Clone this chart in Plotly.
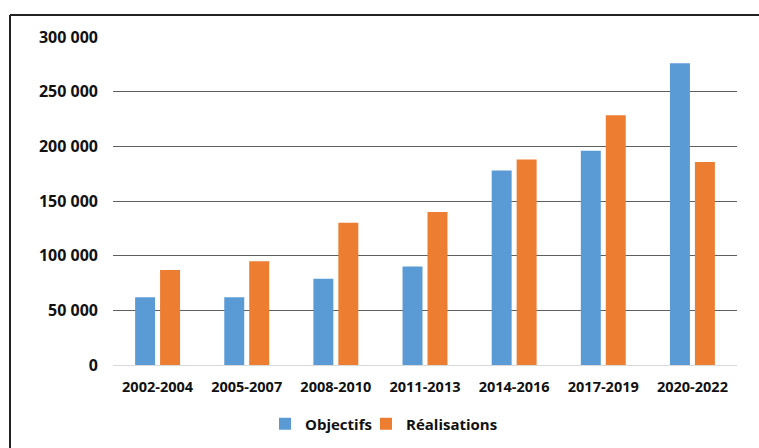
import plotly.graph_objects as go

categories = ["2002-2004", "2005-2007", "2008-2010", "2011-2013", "2014-2016", "2017-2019", "2020-2022"]
objectifs = [62000, 62000, 79000, 90000, 178000, 196000, 276000]
realisations = [87000, 95000, 130000, 140000, 188000, 228500, 185700]
tick_vals = [0, 50000, 100000, 150000, 200000, 250000, 300000]
tick_text = ["0", "50 000", "100 000", "150 000", "200 000", "250 000", "300 000"]

W, H = 759, 448
ml, mr, mt, mb = 113, 22, 37, 83
pw, ph = W - ml - mr, H - mt - mb

def px_x(p):
    return (p - ml) / pw

def px_y(p):
    return (H - mb - p) / ph

fig = go.Figure()
fig.add_trace(go.Bar(x=categories, y=objectifs, name="Objectifs", legend="legend",
                     marker=dict(color="#5B9BD5", line=dict(width=0))))
fig.add_trace(go.Bar(x=categories, y=realisations, name="Réalisations", legend="legend2",
                     marker=dict(color="#ED7D31", line=dict(width=0))))

legend_style = dict(orientation="h", xanchor="left", y=px_y(424), yanchor="middle",
                    font=dict(size=15, family="Open Sans", weight="bold"), itemwidth=30,
                    bgcolor="rgba(0,0,0,0)")

fig.update_layout(
    width=W, height=H,
    margin=dict(l=ml, r=mr, t=mt, b=mb, autoexpand=False),
    paper_bgcolor="white", plot_bgcolor="white",
    font=dict(family="Open Sans", size=14, color="#111111", weight="bold"),
    barmode="group", bargap=0.44, bargroupgap=0.2,
    showlegend=True,
    legend=dict(x=px_x(265), **legend_style),
    legend2=dict(x=px_x(366), **legend_style),
    xaxis=dict(showgrid=False, showline=True, linecolor="#d9d9d9", linewidth=1, ticks="",
               tickfont=dict(size=14.5), ticklabelstandoff=9),
    yaxis=dict(range=[0, 300000], tickvals=tick_vals, ticktext=tick_text, showgrid=True,
               gridcolor="#5f5f5f", gridwidth=1, zeroline=False, showline=False, ticks="",
               tickfont=dict(size=16), ticklabelstandoff=14),
    shapes=[
        dict(type="line", xref="paper", yref="paper", x0=px_x(10), x1=px_x(762), y0=px_y(15), y1=px_y(15),
             line=dict(color="#222222", width=2)),
        dict(type="line", xref="paper", yref="paper", x0=px_x(10), x1=px_x(10), y0=px_y(15), y1=px_y(452),
             line=dict(color="#222222", width=2)),
    ],
)

fig.write_html("out.html")
